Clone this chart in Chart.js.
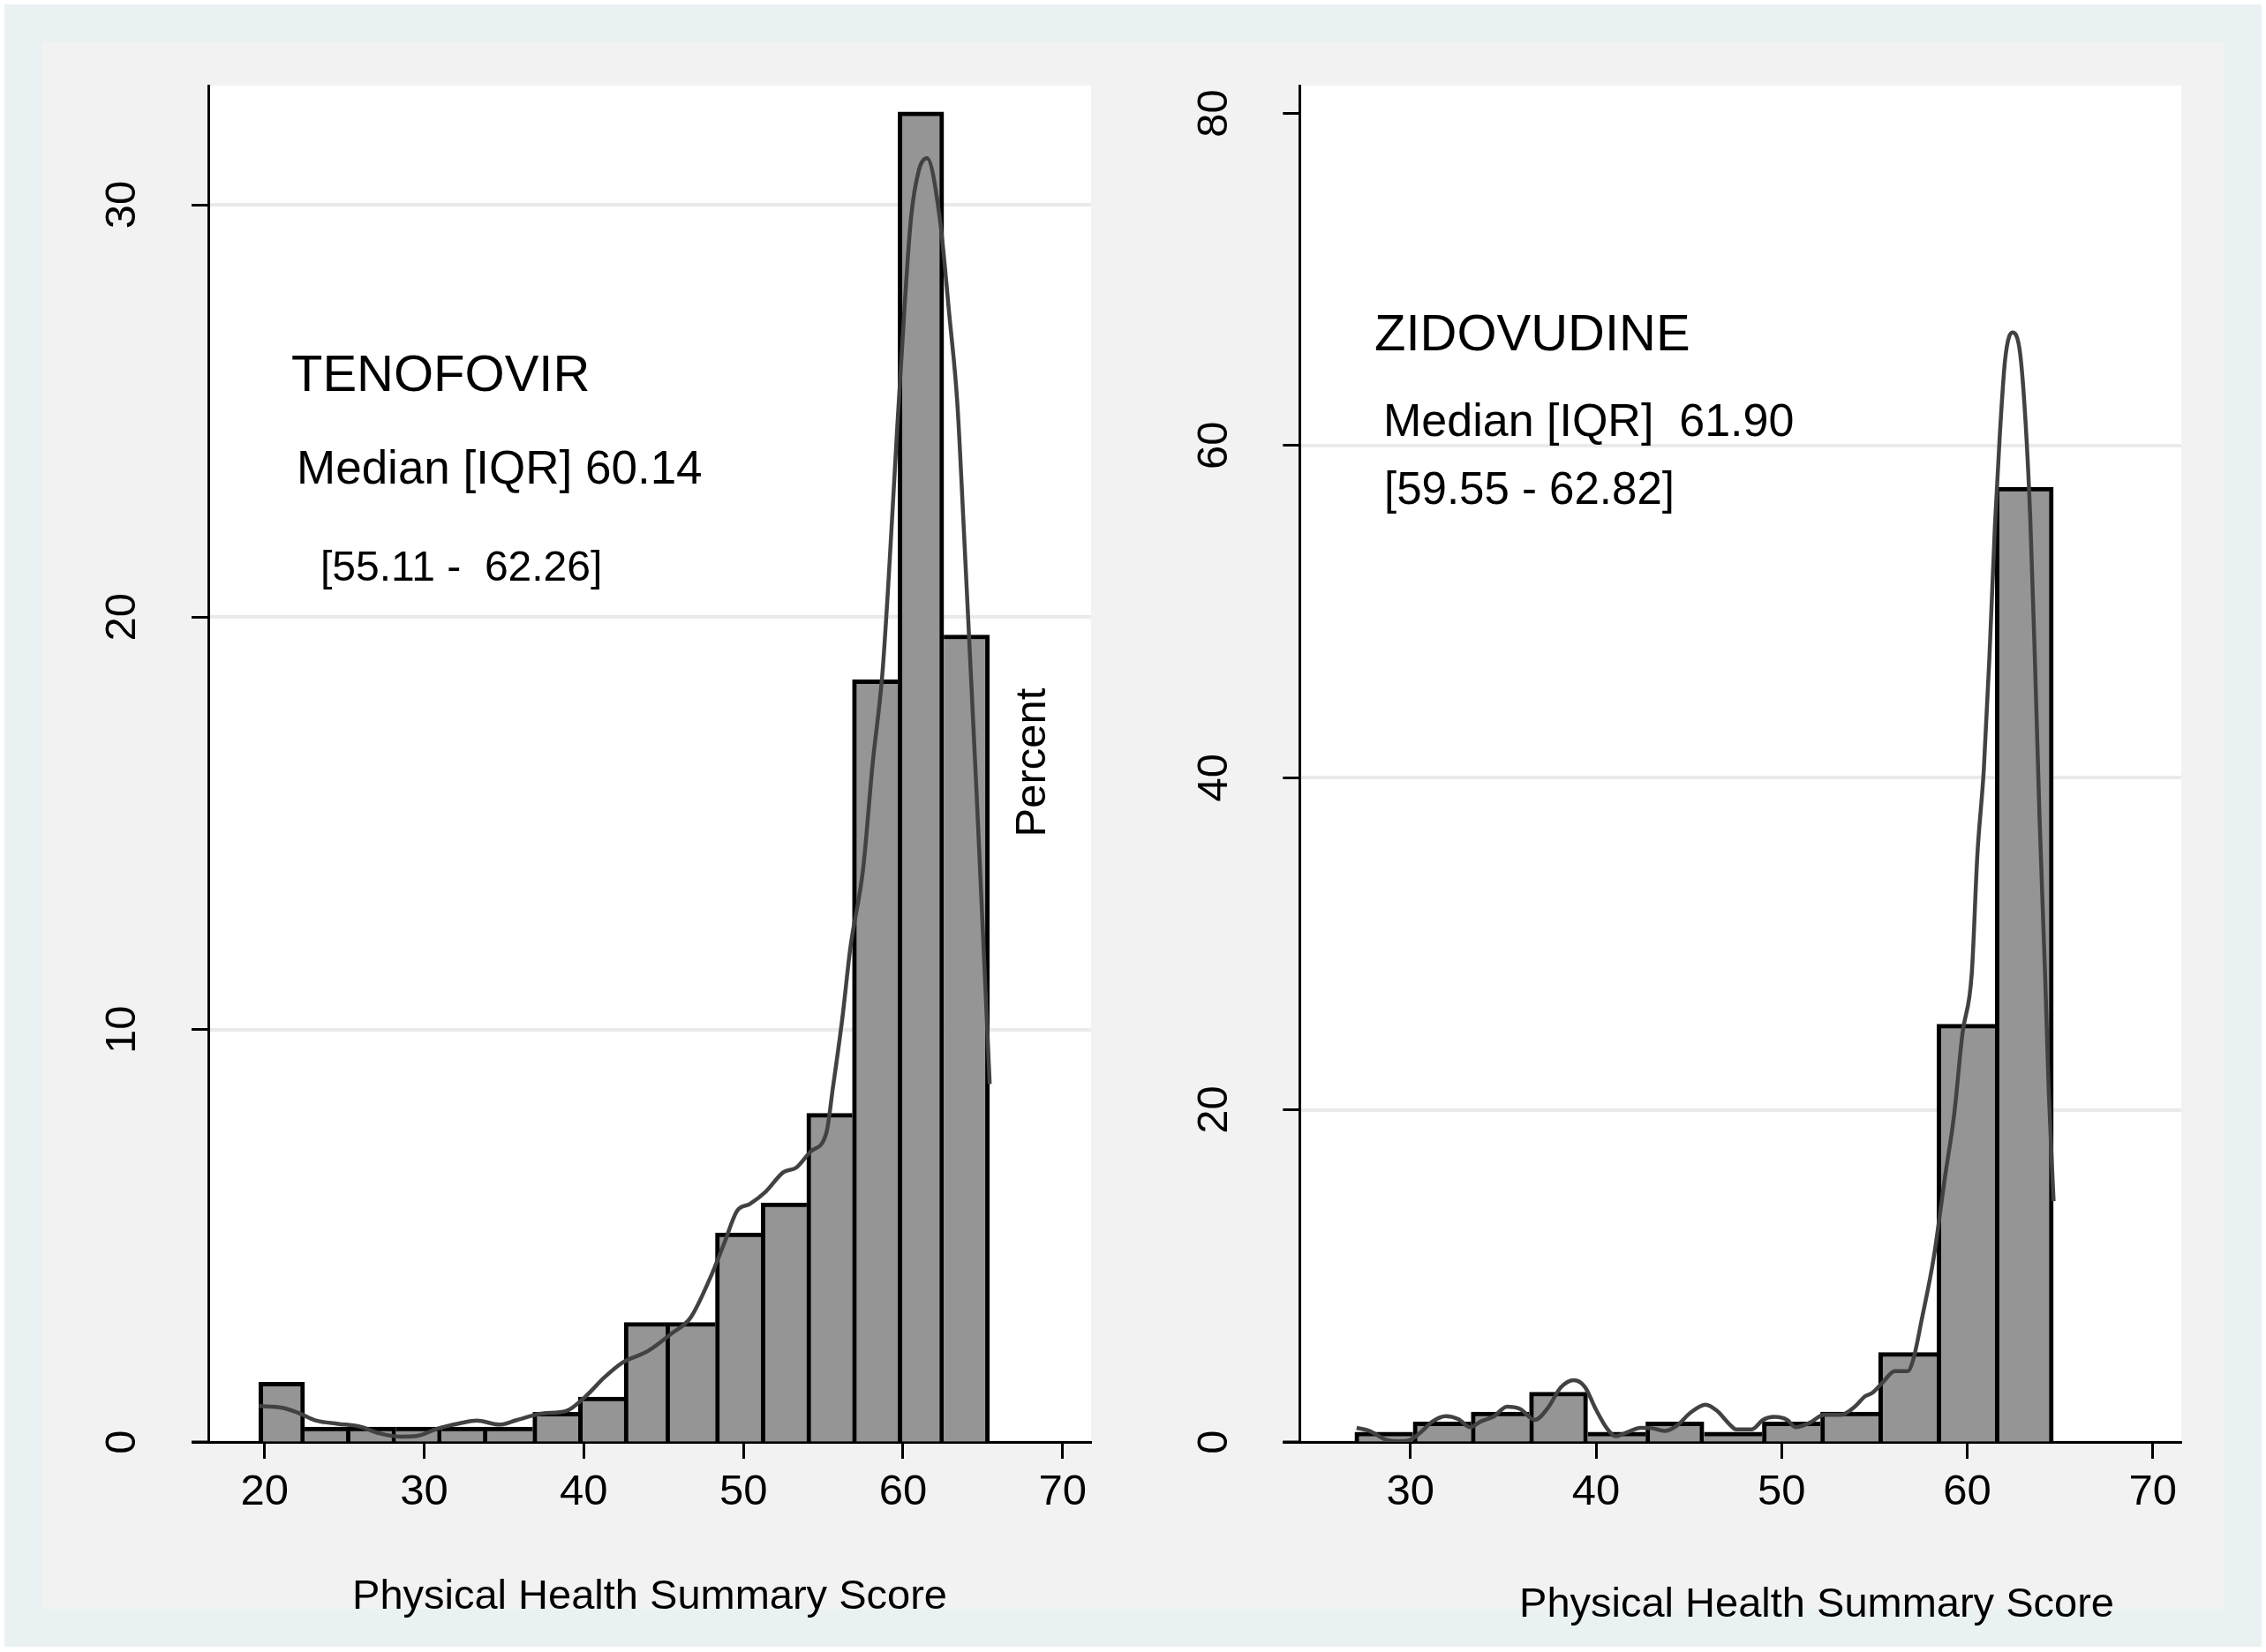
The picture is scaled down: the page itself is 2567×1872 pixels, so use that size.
<!DOCTYPE html>
<html>
<head>
<meta charset="utf-8">
<title>Physical Health Summary Score</title>
<script src="https://cdn.jsdelivr.net/npm/chart.js@4.4.1/dist/chart.umd.min.js"></script>
<style>
body { margin: 0; background: #fff; }
#wrap { position: relative; width: 2567px; height: 1872px; overflow: hidden; }
#outer { position: absolute; left: 5px; top: 5px; width: 2557px; height: 1861px; background: #eaf1f3; }
#inner { position: absolute; left: 47px; top: 47px; width: 2473px; height: 1776px; background: #f2f2f2; }
#teno { position: absolute; left: 0; top: 0; }
#zido { position: absolute; left: 1250px; top: 0; }
</style>
</head>
<body>
<div id="wrap">
  <div id="outer"></div>
  <div id="inner"></div>
  <canvas id="teno" width="1250" height="1872"></canvas>
  <canvas id="zido" width="1317" height="1872"></canvas>
</div>
<script>
var FONT = "'Liberation Sans', Arial, sans-serif";

// TENOFOVIR histogram (percent per bin, bin centres) + kernel density
var tenoBins = [21.08, 23.94, 26.80, 29.66, 32.52, 35.38, 38.24, 41.10, 43.96, 46.82, 49.68, 52.54, 55.40, 58.26, 61.12, 63.98];
var tenoPct  = [1.45, 0.36, 0.36, 0.36, 0.36, 0.36, 0.72, 1.09, 2.90, 2.90, 5.07, 5.80, 7.97, 18.48, 32.25, 19.57];
var tenoKdeX = [19.65, 21.1, 22.1, 23.2, 24.6, 25.9, 27.3, 28.5, 29.6, 30.8, 32.2, 33.3, 34.7, 35.8, 37.4, 38.9, 40.1, 41.3, 42.4, 44.0,
                45.5, 46.7, 47.9, 48.8, 49.6, 50.4, 51.4, 52.5, 53.3, 54.2, 55.2, 55.6, 56.2, 56.7, 57.5, 58.1, 58.7, 59.1, 59.6, 60.1,
                60.5, 61.0, 61.5, 62.3, 62.9, 63.4, 63.8, 64.2, 64.6, 65.0, 65.43];
var tenoKdeY = [0.87, 0.83, 0.71, 0.52, 0.44, 0.38, 0.2, 0.13, 0.15, 0.32, 0.45, 0.52, 0.42, 0.53, 0.69, 0.75, 1.1, 1.57, 1.92, 2.2,
                2.63, 3.02, 3.96, 4.82, 5.6, 5.77, 6.07, 6.54, 6.65, 7.04, 7.5, 8.57, 10.28, 11.98, 13.9, 16.46, 18.6, 20.94, 24.35, 27.55,
                29.68, 30.85, 31.13, 29.68, 27.33, 25.2, 22.2, 19.02, 15.8, 12.4, 8.68];
var tenoXTicks = [20, 30, 40, 50, 60, 70];
var tenoYTicks = [0, 10, 20, 30];
var tenoGridAt = [0, 10, 20, 30];

// ZIDOVUDINE
var zidoBins = [28.57, 31.71, 34.84, 37.98, 41.12, 44.25, 47.39, 50.53, 53.67, 56.80, 59.94, 63.08];
var zidoPct  = [0.6, 1.2, 1.8, 3.0, 0.6, 1.2, 0.6, 1.2, 1.8, 5.39, 25.15, 57.49];
var zidoKdeX = [27.1, 27.8, 28.7, 29.3, 29.9, 30.5, 31.2, 31.9, 32.6, 33.2, 33.8, 34.5, 35.2, 35.9, 36.7, 37.4, 38.1, 38.8, 39.4, 40.0,
                40.6, 41.05, 41.7, 42.4, 43.0, 43.7, 44.35, 45.1, 45.9, 46.5, 47.2, 47.55, 48.4, 49.0, 49.6, 50.3, 50.75, 51.5, 52.3, 53.2,
                53.95, 54.5, 54.9, 55.5, 56.1, 56.8, 57.1, 57.55, 58.2, 58.8, 59.3, 59.75, 60.25, 60.55, 60.9, 61.2, 61.5, 61.75, 62.05, 62.45,
                62.85, 63.15, 63.4, 63.65, 63.9, 64.2, 64.4, 64.66];
var zidoKdeY = [0.85, 0.66, 0.12, 0.04, 0.09, 0.53, 1.24, 1.56, 1.37, 0.89, 1.24, 1.54, 2.13, 1.99, 1.33, 2.04, 3.28, 3.72, 3.32, 1.95,
                0.8, 0.35, 0.59, 0.85, 0.83, 0.66, 0.98, 1.77, 2.25, 1.9, 1.06, 0.76, 0.76, 1.33, 1.51, 1.33, 0.89, 1.15, 1.63, 1.63,
                2.13, 2.75, 2.96, 3.65, 4.27, 4.27, 4.98, 7.35, 11.1, 15.9, 19.7, 24.6, 28.2, 35.3, 40.5, 47.2, 55.2, 60.4, 65.2, 66.8,
                65.6, 61.4, 55.7, 47.2, 37.7, 28.2, 21.1, 14.5];
var zidoXTicks = [30, 40, 50, 60, 70];
var zidoYTicks = [0, 20, 40, 60, 80];
var zidoGridAt = [0, 20, 40, 60];   // no grid line at 80 in the original

var xTitle = 'Physical Health Summary Score';
var yTitle = 'Percent';

function pairs(xs, ys) {
  var out = [];
  for (var i = 0; i < xs.length; i++) out.push({x: xs[i], y: ys[i]});
  return out;
}

// shared bar edges are drawn once, by the taller of the two bars
function edgeWidths(values) {
  return function(ctx) {
    var i = ctx.dataIndex, v = values[i];
    var prev = i > 0 ? values[i - 1] : -1;
    var next = i < values.length - 1 ? values[i + 1] : -1;
    return {top: 5, bottom: 0, left: v > prev ? 5 : 0, right: v >= next ? 5 : 0};
  };
}

var stataLook = {
  id: 'stataLook',
  beforeDraw: function(chart) {
    var a = chart.chartArea, c = chart.ctx;
    c.save();
    c.fillStyle = '#fff';
    c.fillRect(a.left, a.top, a.right - a.left, a.bottom - a.top);
    c.restore();
  },
  afterDraw: function(chart, args, opts) {
    var a = chart.chartArea, c = chart.ctx;
    c.save();
    // stata runs the x axis line out under the y ticks
    c.strokeStyle = '#000';
    c.lineWidth = 3;
    c.beginPath();
    c.moveTo(a.left - 19, a.bottom);
    c.lineTo(a.left, a.bottom);
    c.stroke();
    c.fillStyle = '#000';
    c.textBaseline = 'alphabetic';
    // note positions are page pixels; shift them into this canvas
    opts.notes.forEach(function(n) {
      c.font = n.size + 'px ' + FONT;
      c.textAlign = n.align || 'left';
      c.save();
      c.translate(n.x - opts.shift, n.y);
      if (n.rot) c.rotate(n.rot);
      c.fillText(n.text, 0, 0);
      c.restore();
    });
    c.restore();
  }
};

function panel(id, o) {
  return new Chart(document.getElementById(id), {
    type: 'bar',
    data: {
      datasets: [
        {
          type: 'line',
          data: pairs(o.kdeX, o.kdeY),
          borderColor: '#424242',
          borderWidth: 4.5,
          pointRadius: 0,
          fill: false,
          tension: 0.4,
          cubicInterpolationMode: 'monotone',
          order: 0
        },
        {
          type: 'bar',
          data: pairs(o.bins, o.pct),
          backgroundColor: '#959595',
          borderColor: '#000',
          borderWidth: edgeWidths(o.pct),
          borderSkipped: false,
          barPercentage: 1,
          categoryPercentage: 1,
          order: 1
        }
      ]
    },
    options: {
      responsive: false,
      animation: false,
      devicePixelRatio: 1,
      layout: { padding: o.pad },
      plugins: {
        legend: { display: false },
        tooltip: { enabled: false },
        stataLook: { notes: o.notes, shift: o.shift }
      },
      scales: {
        x: {
          type: 'linear',
          min: o.xMin,
          max: o.xMax,
          offset: false,
          z: 1,
          afterBuildTicks: function(s) { s.ticks = o.xTicks.map(function(v) { return {value: v}; }); },
          afterFit: function(s) { s.height = 238; },
          grid: { drawOnChartArea: false, drawTicks: true, offset: false, tickLength: 19, tickWidth: 3, tickColor: '#000' },
          border: { display: true, color: '#000', width: 3 },
          ticks: { font: { family: FONT, size: 49 }, color: '#000', padding: 9, maxRotation: 0, autoSkip: false }
        },
        y: {
          type: 'linear',
          min: 0,
          max: o.yMax,
          afterBuildTicks: function(s) { s.ticks = o.yTicks.map(function(v) { return {value: v}; }); },
          afterFit: function(s) { s.width = o.yWidth; },
          grid: { drawOnChartArea: false, color: '#000', tickLength: 19, tickWidth: 3, tickColor: '#000' },
          border: { display: true, color: '#000', width: 3 },
          ticks: { font: { family: FONT, size: 49 }, color: '#000', padding: 50, minRotation: 90, maxRotation: 90, crossAlign: 'center', autoSkip: false }
        },
        // grid lines only, on their own zero-width axis
        yGrid: {
          type: 'linear',
          position: 'left',
          min: 0,
          max: o.yMax,
          afterBuildTicks: function(s) { s.ticks = o.gridAt.map(function(v) { return {value: v}; }); },
          afterFit: function(s) { s.width = 0; },
          grid: { color: '#eaeaea', lineWidth: 4, drawTicks: false },
          border: { display: false },
          ticks: { display: false }
        }
      }
    },
    plugins: [stataLook]
  });
}

panel('teno', {
  bins: tenoBins, pct: tenoPct, kdeX: tenoKdeX, kdeY: tenoKdeY,
  xTicks: tenoXTicks, yTicks: tenoYTicks, gridAt: tenoGridAt,
  xMin: 16.48, xMax: 71.78, yMax: 32.89,
  yWidth: 236, shift: 0,
  pad: { left: 0, top: 97, right: 14, bottom: 0 },
  notes: [
    { text: 'TENOFOVIR', x: 330, y: 443, size: 58 },
    { text: 'Median [IQR] 60.14', x: 336, y: 548, size: 53 },
    { text: '[55.11 -  62.26]', x: 363, y: 658, size: 48 },
    { text: xTitle, x: 736, y: 1823, size: 47, align: 'center' },
    { text: yTitle, x: 1184, y: 864, size: 49, align: 'center', rot: -Math.PI / 2 }
  ]
});

panel('zido', {
  bins: zidoBins, pct: zidoPct, kdeX: zidoKdeX, kdeY: zidoKdeY,
  xTicks: zidoXTicks, yTicks: zidoYTicks, gridAt: zidoGridAt,
  xMin: 24.03, xMax: 71.54, yMax: 81.67,
  yWidth: 222.3, shift: 1250,
  pad: { left: 0, top: 97, right: 96, bottom: 0 },
  notes: [
    { text: 'ZIDOVUDINE', x: 1557, y: 397, size: 58 },
    { text: 'Median [IQR]  61.90', x: 1567, y: 494, size: 52 },
    { text: '[59.55 - 62.82]', x: 1568, y: 571, size: 51 },
    { text: xTitle, x: 2058, y: 1832, size: 47, align: 'center' }
  ]
});
</script>
</body>
</html>
